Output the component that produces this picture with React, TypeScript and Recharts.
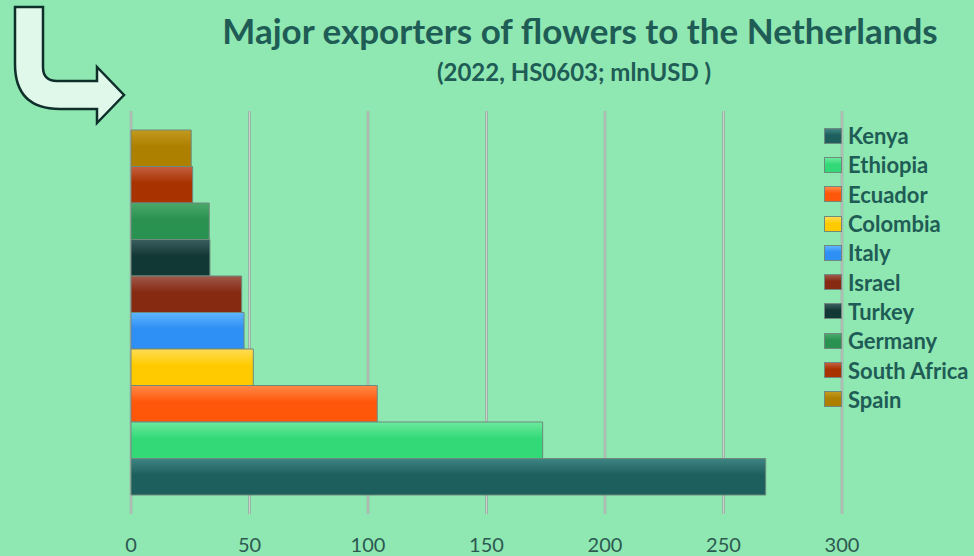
import React from "react";
import { Bar, BarChart, CartesianGrid, XAxis, YAxis } from "recharts";

const countries = [
  "Kenya",
  "Ethiopia",
  "Ecuador",
  "Colombia",
  "Italy",
  "Israel",
  "Turkey",
  "Germany",
  "South Africa",
  "Spain",
];
const values = [267.8, 173.7, 103.9, 51.6, 47.7, 46.7, 33.3, 33.0, 26.0, 25.4];
const baseColors = [
  "#1d5f5c",
  "#33d977",
  "#ff570a",
  "#ffcb00",
  "#2e8ff4",
  "#862a12",
  "#123836",
  "#2a9250",
  "#a83200",
  "#ae8000",
];
const topColors = [
  "#3f8584",
  "#6cea9e",
  "#ff8a48",
  "#ffdc55",
  "#5fb6ff",
  "#a0584a",
  "#3a5e5f",
  "#4aa86a",
  "#c46040",
  "#c29a20",
];
const xTicks = [0, 50, 100, 150, 200, 250, 300];
const year = "2022";

const row: Record<string, number | string> = { year };
countries.forEach((c, i) => {
  row[c] = values[i];
});
const data = [row];

const textColor = "#1e5c55";
const font = "Lato, 'Open Sans', sans-serif";

const gradId = (i: number) => `grad-${i}`;

// light-centred grey grid line
const GridLine = (props: any) => {
  const { x1, y1, x2, y2 } = props;
  return (
    <g>
      <line x1={x1} y1={y1} x2={x2} y2={y2} stroke="#9aa59f" strokeWidth={2.5} />
      <line x1={x1} y1={y1} x2={x2} y2={y2} stroke="#d3dad5" strokeWidth={0.8} />
    </g>
  );
};

const LegendList = () => (
  <div
    style={{
      position: "absolute",
      left: 824,
      top: 121,
      fontFamily: font,
    }}
  >
    {countries.map((c, i) => (
      <div
        key={c}
        style={{ display: "flex", alignItems: "center", height: 29.3 }}
      >
        <div
          style={{
            width: 18,
            height: 16,
            marginRight: 6,
            boxSizing: "border-box",
            border: "1px solid #6d8a7d",
            background: `linear-gradient(${topColors[i]}, ${baseColors[i]} 45%, ${baseColors[i]})`,
          }}
        />
        <span style={{ fontSize: 22, fontWeight: 700, color: textColor, whiteSpace: "nowrap" }}>
          {c}
        </span>
      </div>
    ))}
  </div>
);

const Arrow = () => (
  <svg
    width={140}
    height={130}
    style={{ position: "absolute", left: 0, top: 0 }}
  >
    <path
      d="M15,7 L43,7 L43,67 Q43,81 57,81 L97,81 L97,67 L124,95 L97,123 L97,109 L60,109 Q15,109 15,64 Z"
      fill="#e0f8ea"
      stroke="#0f2f2b"
      strokeWidth={2.5}
      strokeLinejoin="miter"
    />
  </svg>
);

export default function App() {
  // bars are drawn top-down, so Spain goes first and Kenya ends up at the bottom
  const drawOrder = countries.map((_, i) => i).reverse();
  return (
    <div
      style={{
        position: "absolute",
        left: 0,
        top: 0,
        width: 974,
        height: 556,
        background: "#8fe7b2",
        overflow: "hidden",
      }}
    >
      <Arrow />
      <div
        style={{
          position: "absolute",
          left: 580,
          top: 9,
          transform: "translateX(-50%)",
          whiteSpace: "nowrap",
          fontFamily: font,
          fontWeight: 700,
          fontSize: 35,
          color: textColor,
        }}
      >
        Major exporters of flowers to the Netherlands
      </div>
      <div
        style={{
          position: "absolute",
          left: 574,
          top: 57,
          transform: "translateX(-50%)",
          whiteSpace: "nowrap",
          fontFamily: font,
          fontWeight: 700,
          fontSize: 24,
          color: textColor,
        }}
      >
        (2022, HS0603; mlnUSD )
      </div>
      <BarChart
        width={974}
        height={556}
        data={data}
        layout="vertical"
        margin={{ top: 111, right: 132, bottom: 6, left: 131 }}
        barGap={0}
        style={{ position: "absolute", left: 0, top: 0 }}
      >
        <defs>
          {countries.map((c, i) => (
            <linearGradient key={c} id={gradId(i)} x1="0" y1="0" x2="0" y2="1">
              <stop offset="0%" stopColor={topColors[i]} />
              <stop offset="45%" stopColor={baseColors[i]} />
              <stop offset="100%" stopColor={baseColors[i]} />
            </linearGradient>
          ))}
        </defs>
        <CartesianGrid horizontal={false} vertical={GridLine} />
        <XAxis
          type="number"
          domain={[0, 300]}
          ticks={xTicks}
          height={36}
          axisLine={false}
          tickLine={false}
          tickMargin={18}
          tick={{ fill: "#2c5a50", fontSize: 20, fontFamily: font }}
        />
        <YAxis type="category" dataKey="year" hide />
        {drawOrder.map((i) => (
          <Bar
            key={countries[i]}
            dataKey={countries[i]}
            name={countries[i]}
            barSize={36.5}
            fill={`url(#${gradId(i)})`}
            stroke="#6d8a7d"
            strokeWidth={1}
            isAnimationActive={false}
          />
        ))}
      </BarChart>
      <LegendList />
    </div>
  );
}
